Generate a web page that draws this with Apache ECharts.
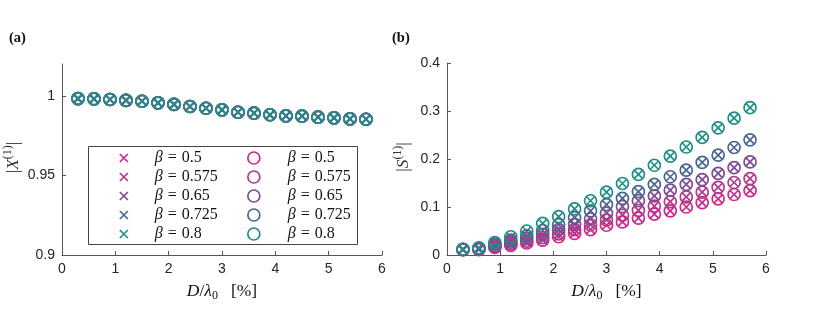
<!DOCTYPE html>
<html>
<head>
<meta charset="utf-8">
<script src="https://cdn.jsdelivr.net/npm/echarts@6/dist/echarts.min.js"></script>
<style>html,body{margin:0;padding:0;background:#fff}#c{width:830px;height:319px}</style>
</head>
<body>
<div id="c"></div>
<script>
const xVals = [0.3, 0.6, 0.9, 1.2, 1.5, 1.8, 2.1, 2.4, 2.7, 3.0, 3.3, 3.6, 3.9, 4.2, 4.5, 4.8, 5.1, 5.4, 5.7];
const betas = ['0.5', '0.575', '0.65', '0.725', '0.8'];
const colors = ['#d2268a', '#b03a8c', '#7d4c93', '#4a6791', '#1f8f86'];
// |X^(1)| (all beta values coincide in the picture)
const X1 = [0.9983, 0.9981, 0.9977, 0.9971, 0.9966, 0.9956, 0.9946, 0.9933, 0.9922, 0.9912, 0.9897, 0.9891, 0.9881, 0.9874, 0.9872, 0.9866, 0.9862, 0.9855, 0.9853];
// |S^(1)| per beta
const S_050 = [0.011, 0.011, 0.016, 0.020, 0.025, 0.031, 0.038, 0.045, 0.053, 0.062, 0.069, 0.077, 0.085, 0.092, 0.100, 0.109, 0.117, 0.126, 0.134];
const S_0575 = [0.011, 0.012, 0.018, 0.023, 0.029, 0.036, 0.044, 0.053, 0.063, 0.073, 0.083, 0.093, 0.102, 0.111, 0.121, 0.131, 0.141, 0.151, 0.159];
const S_065 = [0.011, 0.013, 0.020, 0.027, 0.034, 0.043, 0.053, 0.064, 0.075, 0.087, 0.101, 0.113, 0.123, 0.135, 0.147, 0.157, 0.170, 0.182, 0.194];
const S_0725 = [0.012, 0.014, 0.023, 0.031, 0.040, 0.051, 0.063, 0.078, 0.092, 0.105, 0.118, 0.132, 0.147, 0.163, 0.177, 0.193, 0.208, 0.224, 0.240];
const S_080 = [0.012, 0.015, 0.026, 0.038, 0.050, 0.066, 0.080, 0.096, 0.113, 0.131, 0.149, 0.168, 0.187, 0.206, 0.225, 0.245, 0.265, 0.285, 0.307];
const Sall = [S_050, S_0575, S_065, S_0725, S_080];
const xTicks = [0, 1, 2, 3, 4, 5, 6];
const yTicksL = [0.9, 0.95, 1];
const yTicksR = [0, 0.1, 0.2, 0.3, 0.4];

// cross of 8/12 of the symbol box (invisible move-to points pad the box)
const CROSS = 'path://M0,0M12,12M2,2L10,10M2,10L10,2';
const serif = 'Liberation Serif';
const sans = 'Liberation Sans';
const axisCol = '#555';
const labCol = '#262626';

function pts(arr) { return xVals.map((x, i) => [x, arr[i]]); }

const series = [];
[0, 1].forEach(gi => {
  betas.forEach((b, k) => {
    series.push({
      type: 'scatter', name: 'c' + b, xAxisIndex: gi, yAxisIndex: gi,
      symbol: CROSS, symbolSize: 12,
      itemStyle: { color: 'rgba(0,0,0,0)', borderColor: colors[k], borderWidth: 1.7, opacity: 1 },
      emphasis: { disabled: true },
      data: pts(gi === 0 ? X1 : Sall[k]), z: 2
    });
  });
});
[0, 1].forEach(gi => {
  betas.forEach((b, k) => {
    series.push({
      type: 'scatter', name: 'o' + b, xAxisIndex: gi, yAxisIndex: gi,
      symbol: 'circle', symbolSize: 12,
      itemStyle: { color: 'rgba(0,0,0,0)', borderColor: colors[k], borderWidth: 1.7, opacity: 1 },
      emphasis: { disabled: true },
      data: pts(gi === 0 ? X1 : Sall[k]), z: 2
    });
  });
});

function xAxis(gi) {
  return {
    type: 'value', gridIndex: gi, min: 0, max: 6, interval: 1,
    axisLine: { show: true, lineStyle: { color: axisCol, width: 1 } },
    axisTick: { show: true, inside: true, length: 4, lineStyle: { color: axisCol }, customValues: xTicks },
    axisLabel: { color: labCol, fontFamily: sans, fontSize: 14, margin: 7, customValues: xTicks },
    splitLine: { show: false },
    name: '{i|D}{n|/}{i|λ}{s|0}{p|[%]}',
    nameLocation: 'middle', nameGap: 25,
    nameTextStyle: {
      rich: {
        i: { fontFamily: serif, fontStyle: 'italic', fontSize: 17.5, color: '#111', lineHeight: 22 },
        n: { fontFamily: serif, fontSize: 17.5, color: '#111', lineHeight: 22 },
        p: { fontFamily: serif, fontSize: 17.5, color: '#111', lineHeight: 22, padding: [0, 0, 0, 13] },
        s: { fontFamily: serif, fontSize: 12, color: '#111', verticalAlign: 'bottom' }
      }
    }
  };
}
function yAxis(gi, min, max, interval, ticks, nm, gap) {
  return {
    type: 'value', gridIndex: gi, min: min, max: max, interval: interval,
    axisLine: { show: true, lineStyle: { color: axisCol, width: 1 } },
    axisTick: { show: true, inside: true, length: 4, lineStyle: { color: axisCol }, customValues: ticks },
    axisLabel: { color: labCol, fontFamily: sans, fontSize: 14, margin: 7, customValues: ticks },
    splitLine: { show: false },
    name: '{n||}{i|' + nm + '}{s|(1)}{n||}',
    nameLocation: 'middle', nameGap: gap, nameRotate: 90,
    nameTextStyle: {
      padding: [0, 0, 0, 4],
      rich: {
        i: { fontFamily: serif, fontStyle: 'italic', fontSize: 17.5, color: '#333', lineHeight: 22 },
        n: { fontFamily: serif, fontSize: 17.5, color: '#333', lineHeight: 22 },
        s: { fontFamily: serif, fontSize: 12, color: '#333', verticalAlign: 'top' }
      }
    }
  };
}

function legend(prefix, left, pad) {
  return {
    data: betas.map(b => prefix + b),
    orient: 'vertical', left: left, top: 150, padding: 0,
    itemWidth: 12, itemHeight: 12, itemGap: 3,
    selectedMode: false,
    itemStyle: { borderWidth: 1.7 },
    formatter: n => '{i|β}{e|=}' + n.slice(1),
    textStyle: {
      fontFamily: serif, fontSize: 16, color: '#111', lineHeight: 16, padding: [0, 0, 0, pad],
      rich: {
        i: { fontFamily: serif, fontStyle: 'italic', fontSize: 16, color: '#111', lineHeight: 16 },
        e: { fontFamily: serif, fontSize: 16, color: '#111', lineHeight: 16, padding: [0, 5, 0, 5] }
      }
    }
  };
}

const option = {
  animation: false,
  backgroundColor: '#fff',
  title: [
    { text: '(a)', left: 9, top: 31, padding: 0, textStyle: { fontFamily: serif, fontWeight: 'bold', fontSize: 14.5, color: '#111' } },
    { text: '(b)', left: 392, top: 31, padding: 0, textStyle: { fontFamily: serif, fontWeight: 'bold', fontSize: 14.5, color: '#111' } }
  ],
  grid: [
    { left: 62, right: 448, top: 64, bottom: 64 },
    { left: 447, right: 64, top: 63, bottom: 64 }
  ],
  xAxis: [xAxis(0), xAxis(1)],
  yAxis: [
    yAxis(0, 0.9, 1.02, 0.05, yTicksL, 'X', 38),
    yAxis(1, 0, 0.4, 0.1, yTicksR, 'S', 33)
  ],
  legend: [legend('c', 117, 20), legend('o', 247, 23)],
  graphic: [{
    type: 'rect', z: 3, shape: { x: 88.5, y: 146.5, width: 269, height: 98 },
    style: { fill: '#fff', stroke: '#444', lineWidth: 1 }
  }],
  series: series
};
const chart = echarts.init(document.getElementById('c'), null, { renderer: 'canvas' });
chart.setOption(option);
</script>
</body>
</html>
